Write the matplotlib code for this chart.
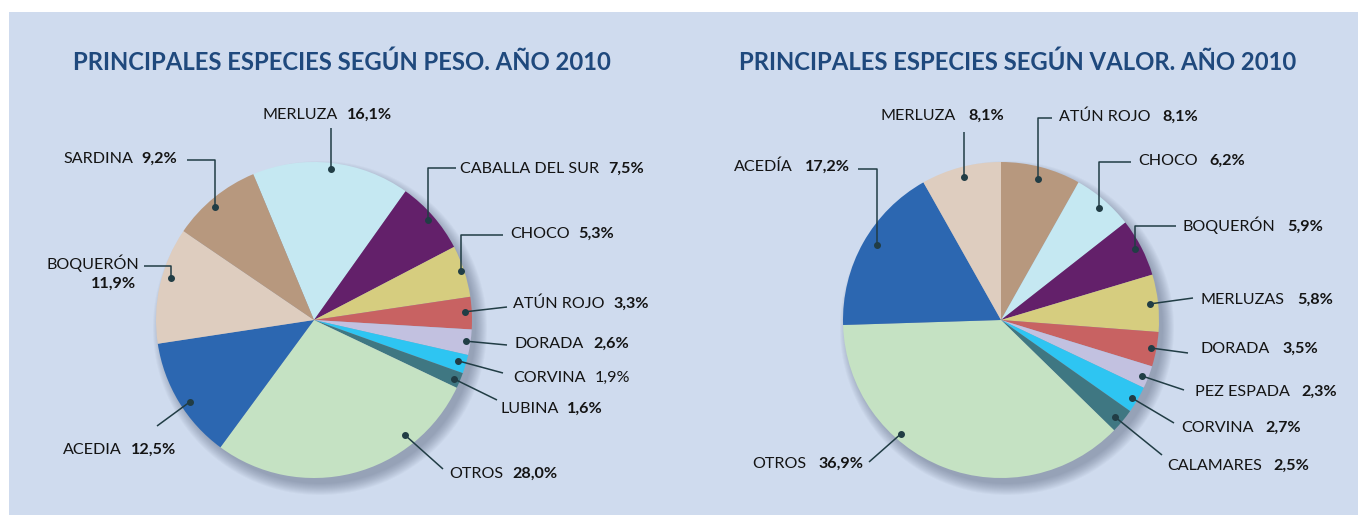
import matplotlib
matplotlib.use('Agg')
import matplotlib.pyplot as plt
from matplotlib.patches import Rectangle, Circle
import numpy as np

# ---------------- data ----------------
peso_title = "PRINCIPALES ESPECIES SEGÚN PESO. AÑO 2010"
peso_labels = ["MERLUZA", "CABALLA DEL SUR", "CHOCO", "ATÚN ROJO", "DORADA", "CORVINA",
               "LUBINA", "OTROS", "ACEDIA", "BOQUERÓN", "SARDINA"]
peso_values = [16.1, 7.5, 5.3, 3.3, 2.6, 1.9, 1.6, 28.0, 12.5, 11.9, 9.2]

valor_title = "PRINCIPALES ESPECIES SEGÚN VALOR. AÑO 2010"
valor_labels = ["ATÚN ROJO", "CHOCO", "BOQUERÓN", "MERLUZAS", "DORADA", "PEZ ESPADA",
                "CORVINA", "CALAMARES", "OTROS", "ACEDÍA", "MERLUZA"]
valor_values = [8.1, 6.2, 5.9, 5.8, 3.5, 2.3, 2.7, 2.5, 36.9, 17.2, 8.1]

# ---------------- styles ----------------
C_LBLUE, C_PURPLE, C_YELLOW, C_RED = "#c5e8f2", "#63206a", "#d6cd7f", "#c86262"
C_LAV, C_CYAN, C_TEAL, C_GREEN = "#c2c1e0", "#2ec5f2", "#3f7782", "#c5e2c3"
C_BLUE, C_BEIGE, C_BROWN = "#2c67b1", "#decdbf", "#b7987e"
peso_colors = [C_LBLUE, C_PURPLE, C_YELLOW, C_RED, C_LAV, C_CYAN, C_TEAL,
               C_GREEN, C_BLUE, C_BEIGE, C_BROWN]
valor_colors = [C_BROWN, C_LBLUE, C_PURPLE, C_YELLOW, C_RED, C_LAV, C_CYAN,
                C_TEAL, C_GREEN, C_BLUE, C_BEIGE]

W, H = 1358, 515
FONT = ["Lato", "DejaVu Sans"]
TXT = "#141414"
TITLE_C = "#1f497d"
LEAD_C = "#213d45"
FS = 11.6
TFS = 17.2


def Y(py):
    return H - py


fig = plt.figure(figsize=(W / 100, H / 100), dpi=100)
fig.patch.set_facecolor("white")
ax = fig.add_axes([0, 0, 1, 1])

# background panel
ax.add_patch(Rectangle((9, 0), W - 9, H - 12, facecolor="#cfdbee", edgecolor="none", zorder=0))


def shadow(cx, cy, r):
    for i in range(12):
        ax.add_patch(Circle((cx + 6, cy - 8), r + 9 - i, facecolor="#44506a",
                            edgecolor="none", alpha=0.04, zorder=0.5))


def draw_pie(values, colors, start, cx, cy, r):
    shadow(cx, Y(cy), r)
    wedges, _ = ax.pie(values, colors=colors, startangle=start, counterclock=False,
                       center=(cx, Y(cy)), radius=r,
                       wedgeprops=dict(linewidth=0.3, edgecolor="none"))
    return wedges


def anchor(w, f, rf):
    ang = np.deg2rad(w.theta2 - f * (w.theta2 - w.theta1))
    cx, cy = w.center
    return cx + rf * w.r * np.cos(ang), cy + rf * w.r * np.sin(ang)


def label(name, value, x, cy, gap, bold=True):
    t = ax.text(x, Y(cy + 5.7), name, ha="left", va="baseline", fontsize=FS,
                color=TXT, family=FONT)
    ax.annotate(value, xy=(1, 0), xycoords=t, xytext=(gap * 0.72, 0),
                textcoords="offset points", ha="left", va="bottom", fontsize=FS,
                color=TXT, family=FONT, fontweight="bold" if bold else "normal")


def leader(w, f, rf, kind, ex, ey):
    dx, dy = anchor(w, f, rf)
    if kind == "v":
        xs, ys = [dx, dx], [dy, Y(ey)]
    elif kind == "elbow":
        xs, ys = [dx, dx, ex], [dy, Y(ey), Y(ey)]
    else:
        xs, ys = [dx, ex], [dy, Y(ey)]
    ax.plot(xs, ys, color=LEAD_C, lw=1.1, solid_capstyle="butt", zorder=3)
    ax.plot([dx], [dy], "o", color=LEAD_C, ms=4, zorder=4)


def fmt(v):
    return f"{v:.1f}%".replace(".", ",")


# ---------------- pie 1: peso ----------------
w1 = draw_pie(peso_values, peso_colors, 112.6, 314, 320, 158)
ax.text(342, Y(70), peso_title, ha="center", va="baseline", fontsize=TFS,
        fontweight="bold", color=TITLE_C, family=FONT)

# layout: (text left x, text centre y, leader kind, end x, end y, wedge fraction, radial fraction)
peso_layout = [
    (263, 113, "v", None, 128, 0.50, 0.96),
    (460, 167, "elbow", 456, 168, 0.49, 0.96),
    (510, 232, "elbow", 503, 235, 0.48, 0.98),
    (513, 302, "line", 507, 307, 0.45, 0.96),
    (515, 342, "line", 507, 345, 0.48, 0.97),
    (513, 376, "line", 503, 373, 0.44, 0.95),
    (500, 407, "line", 497, 400, 0.55, 0.96),
    (449, 472, "line", 443, 469, 0.26, 0.93),
    (63, 448, "line", 157, 426, 0.45, 0.94),
    (47, 263, "elbow", 144, 266, 0.58, 0.94),
    (63, 157, "elbow", 187, 160, 0.44, 0.95),
]
for i, (name, val) in enumerate(zip(peso_labels, peso_values)):
    tx, ty, kind, ex, ey, f, rf = peso_layout[i]
    leader(w1[i], f, rf, kind, ex, ey)
    if name == "BOQUERÓN":
        ax.text(tx, Y(ty + 5.7), name, ha="left", va="baseline", fontsize=FS,
                color=TXT, family=FONT)
        ax.text(136, Y(282 + 5.7), fmt(val), ha="right", va="baseline", fontsize=FS,
                color=TXT, family=FONT, fontweight="bold")
    else:
        label(name, fmt(val), tx, ty, 9, bold=(name != "CORVINA"))

# ---------------- pie 2: valor ----------------
w2 = draw_pie(valor_values, valor_colors, 90, 1001, 320, 158)
ax.text(1018, Y(70), valor_title, ha="center", va="baseline", fontsize=TFS,
        fontweight="bold", color=TITLE_C, family=FONT)

valor_layout = [
    (1059, 115, "elbow", 1052, 118, 0.50, 0.92),
    (1138, 159, "elbow", 1131, 162, 0.52, 0.94),
    (1183, 225, "elbow", 1176, 226, 0.48, 0.96),
    (1201, 298, "line", 1193, 298, 0.50, 0.95),
    (1201, 347, "line", 1188, 353, 0.49, 0.965),
    (1195, 390, "line", 1184, 390, 0.55, 0.96),
    (1181, 426, "line", 1174, 423, 0.55, 0.965),
    (1167, 464, "line", 1162, 455, 0.57, 0.95),
    (752, 462, "line", 869, 462, 0.65, 0.96),
    (734, 165, "elbow", 858, 169, 0.53, 0.92),
    (881, 114, "v", None, 132, 0.51, 0.935),
]
for i, (name, val) in enumerate(zip(valor_labels, valor_values)):
    tx, ty, kind, ex, ey, f, rf = valor_layout[i]
    leader(w2[i], f, rf, kind, ex, ey)
    label(name, fmt(val), tx, ty, 12)

ax.set_xlim(0, W)
ax.set_ylim(0, H)
ax.set_aspect("auto")
ax.axis("off")

fig.savefig("out.png", dpi=100, facecolor="white")
